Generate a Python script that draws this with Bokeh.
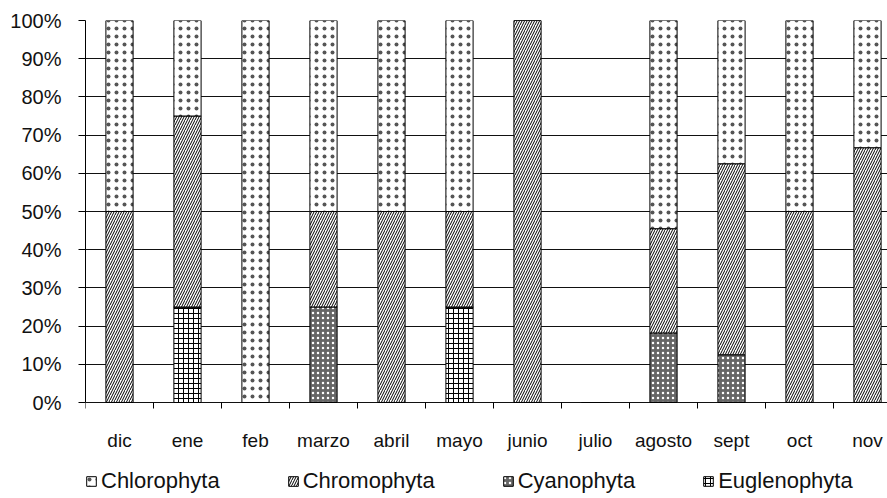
from bokeh.plotting import figure
from bokeh.models import Range1d, FixedTicker, PrintfTickFormatter, Legend, LegendItem
from bokeh.core.properties import value
from bokeh.embed import file_html
from bokeh.resources import INLINE

months = ["dic", "ene", "feb", "marzo", "abril", "mayo", "junio", "julio",
          "agosto", "sept", "oct", "nov"]
euglenophyta = [0, 25, 0, 0, 0, 25, 0, 0, 0, 0, 0, 0]
cyanophyta = [0, 0, 0, 25, 0, 0, 0, 0, 18.2, 12.5, 0, 0]
chromophyta = [50, 50, 0, 25, 50, 25, 100, 0, 27.3, 50, 50, 66.7]
chlorophyta = [50, 25, 100, 50, 50, 50, 0, 0, 54.5, 37.5, 50, 33.3]
y_ticks = [0, 10, 20, 30, 40, 50, 60, 70, 80, 90, 100]

series_names = ["Euglenophyta", "Cyanophyta", "Chromophyta", "Chlorophyta"]
legend_order = ["Chlorophyta", "Chromophyta", "Cyanophyta", "Euglenophyta"]

n = len(months)
x = [i + 0.5 for i in range(n)]
boundaries = list(range(n + 1))
data = dict(x=x, Euglenophyta=euglenophyta, Cyanophyta=cyanophyta,
            Chromophyta=chromophyta, Chlorophyta=chlorophyta)

FONT = "Liberation Sans"

W, H = 887, 498
LEFT, TOP = 85, 20
PLOT_H = 382                     # pixels from 0% to 100%
FRAME_H = H - TOP
px = PLOT_H / 100.0              # pixels per percent
y_start = -(FRAME_H - PLOT_H) / px
x_end = (W - LEFT) / 68.0

p = figure(width=W, height=H,
           x_range=Range1d(0, x_end), y_range=Range1d(y_start, 100),
           output_backend="svg", toolbar_location=None, x_axis_location=None,
           min_border_left=LEFT, min_border_right=0, min_border_top=TOP,
           min_border_bottom=0)
p.outline_line_color = None
p.background_fill_color = "white"

renderers = p.vbar_stack(
    series_names, x="x", width=0.4, source=data,
    fill_color=["white", "#666666", "white", "white"],
    hatch_pattern=["cross", "dot", "right_diagonal_line", "dot"],
    hatch_color=["black", "white", "black", "#555555"],
    hatch_scale=[5, 5, 5, 8],
    hatch_weight=[1, 1.5, 1, 0.4],
    line_color="black", line_width=1,
)
by_name = dict(zip(series_names, renderers))

# horizontal grid (0 line doubles as the category axis line)
p.xgrid.visible = False
p.ygrid.grid_line_color = "#111111"
p.ygrid.grid_line_width = 1
p.ygrid.ticker = FixedTicker(ticks=y_ticks)

# value axis
p.yaxis.ticker = FixedTicker(ticks=y_ticks)
p.yaxis.bounds = (0, 100)
p.yaxis.formatter = PrintfTickFormatter(format="%d%%")
p.yaxis.major_tick_out = 7
p.yaxis.major_tick_in = 0
p.yaxis.minor_tick_line_color = None
p.yaxis.major_label_standoff = 17
p.yaxis.major_label_text_font = FONT
p.yaxis.major_label_text_font_size = "20px"
p.yaxis.major_label_text_color = "#111111"
p.yaxis.axis_line_color = "black"
p.yaxis.major_tick_line_color = "black"

# category axis: tick marks between categories, labels under each bar
p.segment(x0=boundaries, y0=0, x1=boundaries, y1=-6 / px,
          line_color="black", line_width=1)
p.text(x=x, y=-38 / px, text=months, text_align="center", text_baseline="middle",
       text_font=value(FONT), text_font_size="19px", text_color="#111111")

legend = Legend(
    items=[LegendItem(label=nm, renderers=[by_name[nm]]) for nm in legend_order],
    orientation="horizontal", location=(0, 4),
    label_text_font=FONT, label_text_font_size="22px", label_text_color="#111111",
    glyph_width=12, glyph_height=12, label_standoff=4, spacing=67,
    padding=0, margin=0, border_line_color=None, background_fill_alpha=0,
)
p.add_layout(legend, "center")

open("out.html", "w").write(file_html(p, INLINE))
